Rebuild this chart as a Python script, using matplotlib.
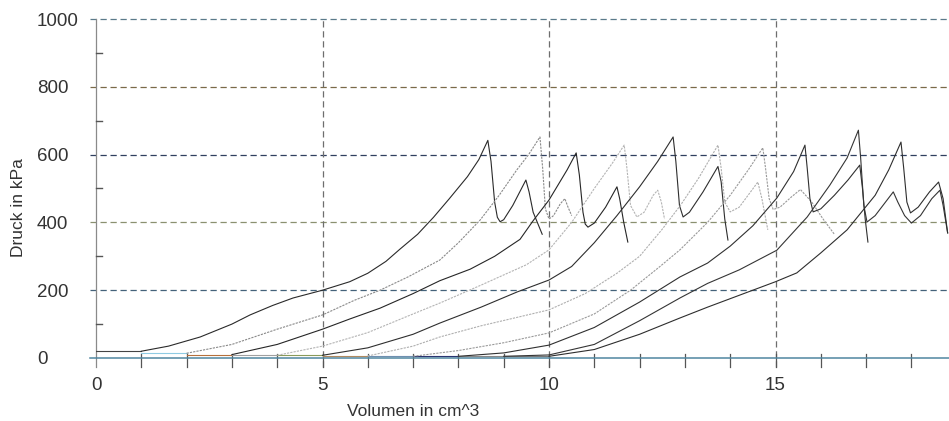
import matplotlib
matplotlib.use("Agg")
import matplotlib.pyplot as plt

plt.rcParams['font.family'] = ['Liberation Sans', 'DejaVu Sans']

# ---------------- data ----------------
c1_x = [1.0, 1.6, 2.3, 3.0, 3.4, 3.9, 4.35, 5.0, 5.6, 6.0, 6.4, 6.7, 7.1, 7.45, 7.8, 8.2, 8.45, 8.65, 8.72, 8.8, 8.86, 8.92, 9.0, 9.2, 9.49, 9.56, 9.65, 9.85]
c1_y = [20, 35, 62, 100, 127, 155, 177, 200, 225, 250, 285, 320, 365, 415, 470, 535, 585, 642, 580, 460, 415, 402, 408, 450, 525, 490, 430, 365]

c2_x = [2.0, 3.0, 4.0, 5.0, 5.7, 6.27, 6.9, 7.59, 8.0, 8.48, 8.9, 9.29, 9.55, 9.8, 9.86, 9.92, 10.0, 10.1, 10.25, 10.35, 10.42, 10.5]
c2_y = [14, 40, 85, 127, 170, 200, 240, 289, 340, 407, 480, 555, 600, 652, 560, 440, 410, 420, 455, 470, 445, 420]

c3_x = [3.0, 4.0, 5.0, 5.6, 6.27, 7.0, 7.59, 8.26, 8.8, 9.36, 9.65, 10.0, 10.4, 10.6, 10.67, 10.75, 10.8, 10.86, 11.0, 11.25, 11.5, 11.56, 11.65, 11.74]
c3_y = [10, 40, 85, 115, 147, 190, 228, 262, 300, 350, 405, 466, 555, 605, 540, 430, 395, 386, 398, 445, 505, 470, 400, 342]

c4_x = [4.0, 5.0, 6.0, 7.0, 7.59, 8.5, 9.5, 10.0, 10.5, 11.0, 11.4, 11.66, 11.72, 11.8, 11.94, 12.1, 12.3, 12.4, 12.48, 12.55]
c4_y = [8, 35, 75, 130, 162, 215, 275, 319, 400, 500, 575, 628, 560, 450, 416, 430, 480, 495, 460, 410]

c5_x = [5.0, 6.0, 7.0, 7.59, 8.5, 9.3, 10.0, 10.5, 11.0, 11.5, 12.0, 12.4, 12.74, 12.8, 12.88, 12.96, 13.1, 13.4, 13.73, 13.8, 13.88, 13.95]
c5_y = [8, 30, 70, 103, 150, 195, 230, 270, 340, 420, 505, 580, 652, 580, 450, 416, 430, 490, 565, 520, 410, 348]

c6_x = [6.0, 7.0, 7.59, 8.5, 9.3, 10.0, 10.8, 11.5, 12.0, 12.5, 12.9, 13.3, 13.73, 13.8, 13.88, 14.0, 14.2, 14.45, 14.61, 14.7, 14.83]
c6_y = [6, 35, 62, 95, 120, 142, 190, 250, 300, 380, 450, 530, 628, 560, 460, 431, 445, 490, 519, 470, 378]

c7_x = [7.0, 8.0, 9.0, 10.0, 11.0, 11.8, 12.45, 12.89, 13.5, 14.0, 14.4, 14.72, 14.78, 14.86, 14.95, 15.1, 15.35, 15.55, 15.8, 16.05, 16.3]
c7_y = [5, 22, 45, 74, 130, 200, 270, 319, 400, 480, 555, 620, 560, 470, 438, 445, 475, 497, 460, 410, 365]

c8_x = [8.0, 9.0, 10.0, 11.0, 12.0, 12.89, 13.5, 14.0, 14.5, 15.03, 15.4, 15.65, 15.7, 15.76, 15.83, 16.0, 16.3, 16.6, 16.86, 16.92, 16.98, 17.04]
c8_y = [5, 15, 38, 90, 165, 239, 280, 330, 390, 472, 550, 628, 560, 470, 431, 440, 480, 525, 569, 500, 410, 342]

c9_x = [9.0, 10.0, 11.0, 12.0, 12.89, 13.5, 14.2, 15.03, 15.7, 16.2, 16.58, 16.83, 16.88, 16.95, 17.02, 17.2, 17.4, 17.6, 17.7, 17.85, 18.0, 18.2, 18.45, 18.63, 18.7, 18.8]
c9_y = [5, 9, 40, 110, 177, 220, 260, 318, 416, 510, 590, 672, 590, 450, 401, 420, 455, 490, 460, 420, 398, 420, 470, 495, 450, 369]

c10_x = [10.0, 11.0, 12.0, 12.89, 13.5, 14.2, 15.0, 15.47, 16.0, 16.58, 17.2, 17.5, 17.77, 17.83, 17.9, 17.98, 18.15, 18.4, 18.6, 18.7, 18.8]
c10_y = [5, 25, 70, 118, 150, 185, 225, 251, 310, 378, 480, 555, 637, 560, 460, 428, 445, 490, 519, 470, 369]

curves_x = [c1_x, c2_x, c3_x, c4_x, c5_x, c6_x, c7_x, c8_x, c9_x, c10_x]
curves_y = [c1_y, c2_y, c3_y, c4_y, c5_y, c6_y, c7_y, c8_y, c9_y, c10_y]
curve_colors = ['#2a2a2a', '#8a8a8a', '#262626', '#b4b4b4', '#2e2e2e', '#b0b0b0', '#9a9a9a', '#303030', '#353535', '#2e2e2e']
curve_styles = ['-', (0, (2, 1)), '-', (0, (2, 1)), '-', (0, (2, 1)), (0, (2, 1)), '-', '-', '-']
flat_colors = ['#444444', '#8fcbe3', '#b5703c', '#a0a0a0', '#8a9a5a', '#b08a60', '#6f8fb0', '#2a3470', '#888888', '#777777']

y_major = [0, 200, 400, 600, 800, 1000]
y_minor = [100, 300, 500, 700, 900]
grid_colors = ['#4f86a0', '#44627a', '#8a9070', '#2f3f5f', '#7a6a48', '#5b7a8a']
x_labels = [0, 5, 10, 15]
x_minor = list(range(1, 19))

X_MAX = 18.83

# ---------------- figure ----------------
W, H = 949, 421
fig = plt.figure(figsize=(W / 100, H / 100), dpi=100)
ax = fig.add_axes([96 / W, (H - 358) / H, 1 - 96 / W, (358 - 19) / H])
ax.set_xlim(0, X_MAX)
ax.set_ylim(0, 1000)
ax.axis('off')

# horizontal dashed grid lines (also act as left major ticks)
for v, c in zip(y_major[1:], grid_colors[1:]):
    ax.plot([-0.14, X_MAX], [v, v], color=c, lw=0.9, ls=(0, (5, 3)), clip_on=False, zorder=1)
# x axis line at 0
ax.plot([-0.14, X_MAX], [0, 0], color=grid_colors[0], lw=1.1, clip_on=False, zorder=3)
# vertical dashed grid lines
for v in x_labels[1:]:
    ax.plot([v, v], [-28, 1000], color='#6e6e6e', lw=0.9, ls=(0, (5, 3)), clip_on=False, zorder=1)
# y axis
ax.plot([0, 0], [-28, 1000], color='#8a8a8a', lw=0.9, clip_on=False, zorder=2)
# y minor ticks (to the right)
for v in y_minor:
    ax.plot([0, 0.14], [v, v], color='#555555', lw=1.0, clip_on=False, zorder=2)
# x ticks
for v in x_minor:
    ax.plot([v, v], [12, -26], color='#555555', lw=0.9, clip_on=False, zorder=2)

# curves
for i, (xs, ys) in enumerate(zip(curves_x, curves_y)):
    ax.plot([xs[0] - 1, xs[0]], [ys[0], ys[0]], color=flat_colors[i], lw=0.8, zorder=4)
    ax.plot(xs, ys, color=curve_colors[i], lw=0.8, ls=curve_styles[i], zorder=5)

# tick labels
fs_tick = 13.5
fs_lab = 12.5
for v in y_major:
    ypix = 358 - v * 0.339 + 2
    fig.text(37 / W, 1 - ypix / H, str(v), ha='left', va='center', fontsize=fs_tick, color='#333333')
for v in x_labels:
    xpix = 96 + v * 45.3
    fig.text(xpix / W, 1 - 385 / H, str(v), ha='center', va='center', fontsize=fs_tick, color='#333333')

fig.text(18.5 / W, 1 - 208 / H, 'Druck in kPa', rotation=90, ha='center', va='center', fontsize=fs_lab, color='#333333')
fig.text(413 / W, 1 - 411 / H, 'Volumen in cm^3', ha='center', va='center', fontsize=fs_lab, color='#333333')

fig.savefig('out.png', dpi=100)
